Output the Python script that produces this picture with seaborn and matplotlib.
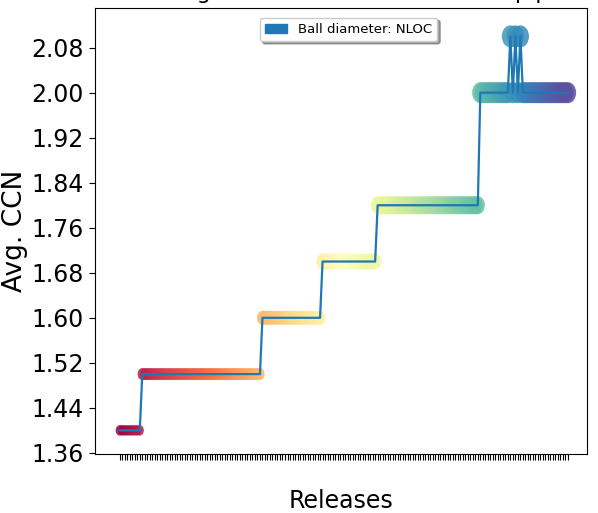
import numpy as np
import pandas as pd
import matplotlib
matplotlib.use("Agg")
import matplotlib.pyplot as plt
import seaborn as sns
from matplotlib.patches import Patch
from matplotlib.path import Path

# ---- data ----
avg_ccn = ([1.40] * 9 + [1.50] * 48 + [1.60] * 24 + [1.70] * 22 + [1.80] * 41 +
           [2.00] * 12 + [2.10, 2.00, 2.10, 2.00, 2.10] + [2.00] * 19)
nloc = ([570] * 9 + [750] * 48 + [1020] * 24 + [1330] * 22 + [1680] * 41 +
        [2290] * 12 + [2510, 2290, 2510, 2290, 2510] + [2290] * 19)
releases = list(range(len(avg_ccn)))
y_ticks = [1.36, 1.44, 1.52, 1.60, 1.68, 1.76, 1.84, 1.92, 2.00, 2.08]
title = "Average CCN over the releases of pip"
legend_label = "Ball diameter: NLOC"

df = pd.DataFrame({"release": releases, "ccn": avg_ccn, "nloc": nloc})

plt.rcParams["font.family"] = ["DejaVu Sans"]

fig = plt.figure(figsize=(5.98, 5.13), dpi=100)
ax = fig.add_axes([0.159, 0.115, 0.823, 0.870])

# slightly narrow ellipse marker (reference balls are horizontally squeezed)
circ = Path.unit_circle()
ell = Path(circ.vertices * np.array([0.78, 1.0]), circ.codes)

sns.scatterplot(data=df, x="release", y="ccn", hue="release", palette="Spectral",
                size="nloc", sizes=(57, 251), size_norm=(570, 2510),
                marker=ell, linewidth=0, alpha=0.85, legend=False, ax=ax, zorder=2)
sns.lineplot(data=df, x="release", y="ccn", color="#1f77b4", lw=1.6, ax=ax,
             zorder=3, estimator=None)

ax.set_xlim(-0.055 * (len(releases) - 1), (len(releases) - 1) * 1.043)
ax.set_ylim(1.358, 2.151)
ax.set_yticks(y_ticks)
ax.set_yticklabels([f"{v:.2f}" for v in y_ticks], fontsize=17)
ax.set_xticks(releases)
ax.set_xticklabels([""] * len(releases))
ax.tick_params(axis="x", length=4.5, width=0.8, color="black")
ax.tick_params(axis="y", length=4.5)

ax.set_xlabel("Releases", fontsize=17)
ax.xaxis.set_label_coords(0.5, -0.079)
ax.set_ylabel("Avg. CCN", fontsize=19)
ax.yaxis.set_label_coords(-0.136, 0.5)
ax.set_title(title, fontsize=16)

ax.legend(handles=[Patch(color="#1f77b4", label=legend_label)],
          loc="upper center", bbox_to_anchor=(0.515, 0.978), borderaxespad=0,
          shadow=True, fontsize=9.5, handlelength=1.7, frameon=True)

fig.savefig("out.png", dpi=100)
